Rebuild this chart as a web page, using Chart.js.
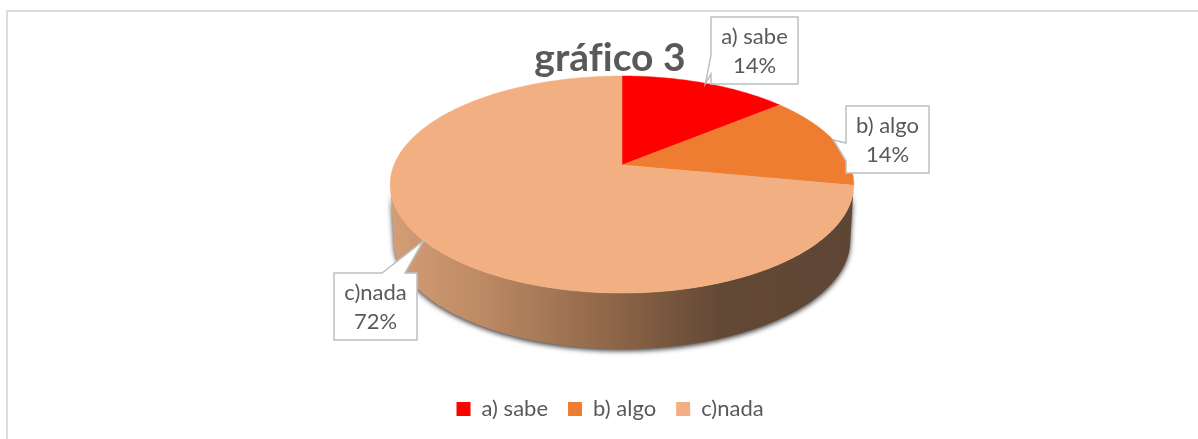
<!DOCTYPE html>
<html>
<head>
<meta charset="utf-8">
<title>gráfico 3</title>
<script src="https://cdn.jsdelivr.net/npm/chart.js@4/dist/chart.umd.js"></script>
<style>
  html, body { margin: 0; padding: 0; width: 1198px; height: 439px; overflow: hidden; background: #fff; }
  #frame { position: absolute; left: 6px; top: 10px; width: 1210px; height: 450px; border: 2px solid #dcdcdc; box-sizing: border-box; }
  #wrap { position: absolute; left: 0; top: 0; width: 1198px; height: 439px; }
</style>
</head>
<body>
<div id="frame"></div>
<div id="wrap"><canvas id="myChart"></canvas></div>
<script>
/*dados do grafico*/
const labels = ['a) sabe', 'b) algo', 'c)nada'];
const values = [14, 14, 72];
const colors = ['#ff0000', '#ee7d31', '#f2af82'];

/*vista em perspectiva da pizza*/
const view = { shiftX: 12, apexY: 165, rx: 228, ry: 105, persp: -0.18, depth: 56, baseScale: 0.985 };

/*caixas dos rotulos: posicao e base da seta*/
const calloutBoxes = [
  { x: 711, y: 17, w: 87, h: 67, side: 'left', from: 38, to: 57 },
  { x: 846, y: 106, w: 83, h: 67, side: 'left', from: 37, to: 55 },
  { x: 334, y: 273, w: 83, h: 67, side: 'top', from: 48, to: 71 }
];

function project(cx, a, drop, scale = 1) {
  const x = Math.cos(a), y = Math.sin(a);
  const d = 1 + view.persp * y;
  return [cx + scale * view.rx * x / d, view.apexY + view.ry * y / d + drop];
}

function drawWall(ctx, cx) {
  const right = Math.asin(-view.persp), left = Math.PI - right;
  const grad = ctx.createLinearGradient(cx - view.rx, 0, cx + view.rx, 0);
  grad.addColorStop(0, '#d39d76');
  grad.addColorStop(0.2, '#bb8963');
  grad.addColorStop(0.5, '#8a6346');
  grad.addColorStop(0.72, '#624835');
  grad.addColorStop(1, '#5f4634');
  ctx.beginPath();
  for (let a = right; a <= left; a += 0.01) ctx.lineTo(...project(cx, a, 0));
  for (let a = left; a >= right; a -= 0.01) ctx.lineTo(...project(cx, a, view.depth, view.baseScale));
  ctx.closePath();
  ctx.save();
  ctx.shadowColor = 'rgba(30,30,30,0.85)';
  ctx.shadowBlur = 5;
  ctx.shadowOffsetY = 2;
  ctx.fillStyle = grad;
  ctx.fill();
  ctx.restore();
}

function drawSlice(ctx, cx, arc) {
  ctx.beginPath();
  ctx.moveTo(cx, view.apexY);
  for (let a = arc.startAngle; a < arc.endAngle; a += 0.01) ctx.lineTo(...project(cx, a, 0));
  ctx.lineTo(...project(cx, arc.endAngle, 0));
  ctx.closePath();
  ctx.fillStyle = arc.options.backgroundColor;
  ctx.strokeStyle = arc.options.backgroundColor;
  ctx.lineWidth = 0.5;
  ctx.fill();
  ctx.stroke();
}

function drawCallout(ctx, box, tip, lines) {
  const { x, y, w, h, side, from, to } = box;
  ctx.beginPath();
  ctx.moveTo(x, y);
  if (side === 'top') {
    ctx.lineTo(x + from, y);
    ctx.lineTo(tip[0], tip[1]);
    ctx.lineTo(x + to, y);
  }
  ctx.lineTo(x + w, y);
  ctx.lineTo(x + w, y + h);
  ctx.lineTo(x, y + h);
  if (side === 'left') {
    ctx.lineTo(x, y + to);
    ctx.lineTo(tip[0], tip[1]);
    ctx.lineTo(x, y + from);
  }
  ctx.closePath();
  ctx.fillStyle = '#ffffff';
  ctx.strokeStyle = '#bfbfbf';
  ctx.lineWidth = 1.5;
  ctx.fill();
  ctx.stroke();
  ctx.fillStyle = '#595959';
  ctx.font = '22px Lato';
  ctx.textAlign = 'center';
  ctx.textBaseline = 'middle';
  ctx.fillText(lines[0], x + w / 2, y + 20);
  ctx.fillText(lines[1], x + w / 2, y + 49);
}

const pie3d = {
  id: 'pie3d',
  beforeDatasetsDraw(chart) {
    const ctx = chart.ctx;
    const arcs = chart.getDatasetMeta(0).data;
    const cx = arcs[0].x + view.shiftX;
    const total = values.reduce((s, v) => s + v, 0);
    drawWall(ctx, cx);
    arcs.forEach(arc => drawSlice(ctx, cx, arc));
    arcs.forEach((arc, i) => {
      const mid = (arc.startAngle + arc.endAngle) / 2;
      const pct = Math.round(values[i] / total * 100) + '%';
      drawCallout(ctx, calloutBoxes[i], project(cx, mid, 0), [labels[i], pct]);
    });
    return false;
  }
};

/*sem ligadura no "fi" do titulo*/
const noLigature = {
  id: 'noLigature',
  beforeDraw(chart) {
    chart.ctx.letterSpacing = '0.01px';
  }
};

const data1 = {
  labels: labels,
  datasets: [{
    data: values,
    backgroundColor: colors,
    borderWidth: 0
  }]
};

const config1 = {
  type: 'pie',
  data: data1,
  plugins: [noLigature, pie3d],
  options: {
    responsive: false,
    animation: false,
    layout: { padding: { left: 22, bottom: 9 } },
    plugins: {
      title: {
        display: true,
        text: 'gráfico 3',
        color: '#595959',
        font: { family: 'Lato', size: 39, weight: 'bold' },
        padding: { top: 35, bottom: 0 }
      },
      legend: {
        position: 'bottom',
        labels: {
          color: '#595959',
          font: { family: 'Lato', size: 22 },
          boxWidth: 14,
          boxHeight: 14,
          padding: 20
        }
      },
      tooltip: { enabled: false }
    }
  }
};

const canvas = document.getElementById('myChart');
canvas.width = 1198;
canvas.height = 439;
const myChart1 = new Chart(canvas, config1);
</script>
</body>
</html>
